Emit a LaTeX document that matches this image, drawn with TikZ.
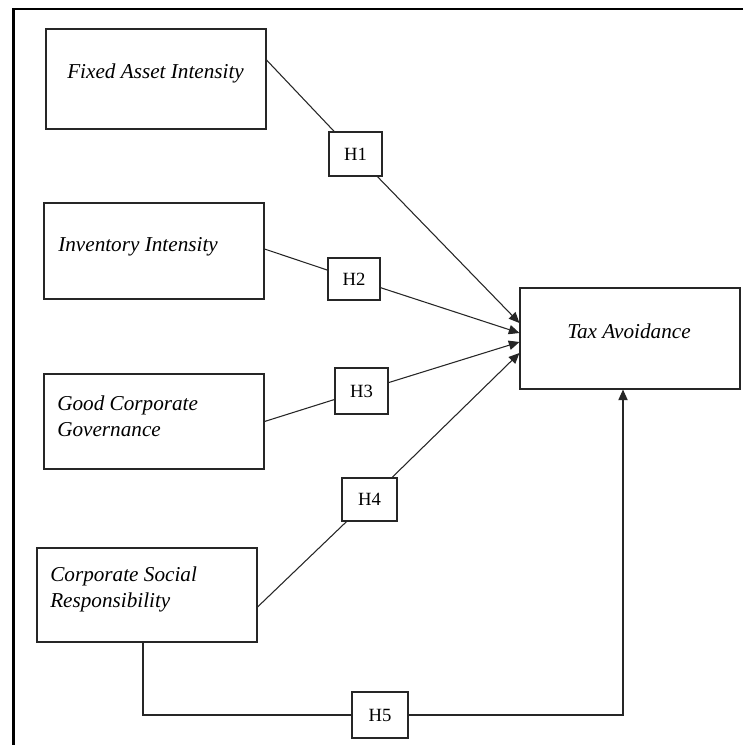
\documentclass[tikz,border=0pt]{standalone}
\usepackage{fontspec}
\setmainfont{Liberation Serif}
\usetikzlibrary{calc,arrows.meta}
\begin{document}
\begin{tikzpicture}[x=0.75pt,y=-0.75pt,
  varbox/.style={draw=black!85, line width=0.8pt, inner sep=0pt, minimum width=165pt},
  hbox/.style={draw=black!85, fill=white, line width=0.8pt, inner sep=0pt,
    font=\fontsize{14}{16}\selectfont},
  vartext/.style={font=\fontsize{15.9}{19.5}\selectfont\itshape, inner sep=0pt,
    anchor=base west, align=left},
  link/.style={draw=black!85, line width=0.8pt},
  arrow/.style={link, -{Triangle[length=8pt,width=7pt]}},
  frame/.style={line width=1.6pt}]
\useasboundingbox (0,0) rectangle (743,745);
% outer frame
\draw[frame] (743,9) -- (13.5,9) -- (13.5,745);
% variable boxes
\node[varbox, minimum height=75pt]    (fa)  at (156,79) {};
\node[varbox, minimum height=72pt]    (ii)  at (154,251) {};
\node[varbox, minimum height=71.25pt] (gcg) at (154,421.5) {};
\node[varbox, minimum height=70.5pt]  (csr) at (147,595) {};
\node[varbox, minimum height=75.75pt] (ta)  at (630,338.5) {};
% texts
\node[vartext] (fat)  at (67,79) {Fixed Asset Intensity};
\node[vartext] (iit)  at (58,252) {Inventory Intensity};
\node[vartext] (gcgt) at (57,436) {Good Corporate\\Governance};
\node[vartext] (csrt) at (50,607) {Corporate Social\\Responsibility};
\node[vartext] (tat)  at (567,338) {Tax Avoidance};
% vertical links
\draw[link] ($(fa.south)+(-10,0)$) -- ($(fa.south)+(-10,0)$ |- ii.north);
\draw[link] ($(ii.south)+(-11,0)$) -- ($(ii.south)+(-11,0)$ |- gcg.north);
\draw[link] ($(gcg.south)+(-12,0)$) -- ($(gcg.south)+(-12,0)$ |- csr.north);
% hypothesis points
\coordinate (s1) at ($(fa.east)+(0,-19)$);
\coordinate (s2) at ($(ii.east)+(0,-2)$);
\coordinate (s3) at ($(gcg.east)+(0,0)$);
\coordinate (s4) at ($(csr.east)+(0,12)$);
\coordinate (t1) at ($(ta.west)+(0,-15.5)$);
\coordinate (t2) at ($(ta.west)+(0,-5.5)$);
\coordinate (t3) at ($(ta.west)+(0,3.5)$);
\coordinate (t4) at ($(ta.west)+(0,14.5)$);
\coordinate (s5) at ($(csr.south)+(-4,0)$);
\coordinate (t5) at ($(ta.south)+(-7,0)$);
% H boxes
\node[hbox, minimum width=39.75pt, minimum height=33pt]    (H1) at (355.5,154) {H1};
\node[hbox, minimum width=39pt,    minimum height=31.5pt]  (H2) at (354,279) {H2};
\node[hbox, minimum width=39.75pt, minimum height=34.5pt]  (H3) at (361.5,391) {H3};
\node[hbox, minimum width=41.25pt, minimum height=32.25pt] (H4) at (369.5,499.5) {H4};
\node[hbox, minimum width=42pt,    minimum height=34.5pt]  (H5) at (380,715) {H5};
% connectors
\draw[link] (s1) -- (H1);
\draw[arrow] (H1) -- (t1);
\draw[link] (s2) -- (H2);
\draw[arrow] (H2) -- (t2);
\draw[link] (s3) -- (H3);
\draw[arrow] (H3) -- (t3);
\draw[link] (s4) -- (H4);
\draw[arrow] (H4) -- (t4);
\draw[link] (s5) |- (H5);
\draw[arrow] (H5) -| (t5);
\end{tikzpicture}
\end{document}
